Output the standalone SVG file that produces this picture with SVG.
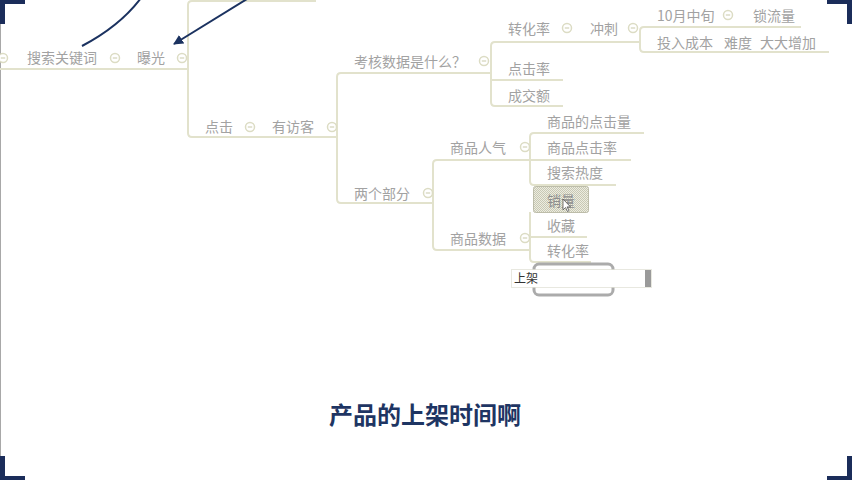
<svg xmlns="http://www.w3.org/2000/svg" width="852" height="480" viewBox="0 0 852 480">
  <style>
    .t { font-family: "Noto Sans CJK SC", "Noto Sans", sans-serif; font-size: 14px; fill: #a2a2a2; }
    .br { fill: none; stroke: #e2e2cc; stroke-width: 2; stroke-linecap: square; }
    .tog { fill: #ffffff; stroke: #dcdcc4; stroke-width: 1.5; }
    .tog-m { stroke: #d2d2b8; stroke-width: 1.2; }
    .corner { fill: #1b2d5a; }
    .ink { fill: none; stroke: #1b3260; stroke-width: 2; }
    .cap { font-family: "Noto Sans CJK SC", "Noto Sans", sans-serif; font-size: 24px; font-weight: 700; fill: #1e3563; }
  </style>
  <defs>
    <marker id="ah" viewBox="0 0 10 10" refX="9" refY="5" markerWidth="5" markerHeight="5" orient="auto" markerUnits="strokeWidth">
      <path d="M0,0 L10,5 L0,10 z" fill="#1b3260"/>
    </marker>
    <g id="toggle">
      <circle r="4.5" class="tog"/>
      <line x1="-2.2" y1="0" x2="2.2" y2="0" class="tog-m"/>
    </g>
    <pattern id="sel" width="2" height="2" patternUnits="userSpaceOnUse">
      <rect width="2" height="2" fill="#ecece0"/>
      <rect width="1" height="1" fill="#c8c8b4"/>
      <rect x="1" y="1" width="1" height="1" fill="#c8c8b4"/>
    </pattern>
  </defs>

  <rect width="852" height="480" fill="#ffffff"/>

  <!-- window edge -->
  <line x1="0.5" y1="24" x2="0.5" y2="456" stroke="#a8a8a8" stroke-width="1"/>

  <!-- connectors -->
  <g id="connectors">
    <path class="br" d="M0,69 H188"/>
    <path class="br" d="M315,1 H192 Q188,1 188,5 V133 Q188,137 192,137 H335"/>
    <path class="br" d="M490,73 H341 Q337,73 337,77 V199 Q337,203 341,203 H433"/>
    <path class="br" d="M640,42 H495 Q491,42 491,46 V102 Q491,106 495,106 H562"/>
    <path class="br" d="M491,80 H562"/>
    <path class="br" d="M800,27 H644 Q640,27 640,31 V48 Q640,52 644,52 H828"/>
    <path class="br" d="M630,160 H437 Q433,160 433,164 V246 Q433,250 437,250 H530"/>
    <path class="br" d="M643,133 H534 Q530,133 530,137 V181 Q530,185 534,185 H615"/>
    <path class="br" d="M530,213 V258 Q530,262 534,262 H590"/>
    <path class="br" d="M530,237 H586"/>
    <!-- hand-drawn pointers -->
    <path class="ink" d="M82,46 Q120,26 141,-2"/>
    <path class="ink" d="M247,-1 L174,44" marker-end="url(#ah)"/>
  </g>

  <!-- nodes -->
  <g id="n-search"><text class="t" x="27" y="63">搜索关键词</text><use href="#toggle" x="3" y="58"/><use href="#toggle" x="115" y="58"/></g>
  <g id="n-exposure"><text class="t" x="137" y="63">曝光</text><use href="#toggle" x="182" y="58"/></g>
  <g id="n-click"><text class="t" x="205" y="132">点击</text><use href="#toggle" x="250" y="127"/></g>
  <g id="n-visitor"><text class="t" x="272" y="132">有访客</text><use href="#toggle" x="332" y="127"/></g>
  <g id="n-metrics"><text class="t" x="354" y="67">考核数据是什么？</text><use href="#toggle" x="484" y="61"/></g>
  <g id="n-conv1"><text class="t" x="508" y="34">转化率</text><use href="#toggle" x="567" y="28"/></g>
  <g id="n-sprint"><text class="t" x="590" y="34">冲刺</text><use href="#toggle" x="633" y="28"/></g>
  <g id="n-mid-oct"><text class="t" x="657" y="21">10月中旬</text><use href="#toggle" x="728" y="15"/></g>
  <g id="n-lock"><text class="t" x="753" y="21">锁流量</text></g>
  <g id="n-cost"><text class="t" y="48"><tspan x="657">投入成本</tspan><tspan x="724">难度</tspan><tspan x="760">大大增加</tspan></text></g>
  <g id="n-ctr"><text class="t" x="508" y="74">点击率</text></g>
  <g id="n-gmv"><text class="t" x="508" y="101">成交额</text></g>
  <g id="n-two"><text class="t" x="354" y="199">两个部分</text><use href="#toggle" x="428" y="193"/></g>
  <g id="n-pop"><text class="t" x="450" y="153">商品人气</text><use href="#toggle" x="525" y="147"/></g>
  <g id="n-clicks"><text class="t" x="547" y="127">商品的点击量</text></g>
  <g id="n-pctr"><text class="t" x="547" y="153">商品点击率</text></g>
  <g id="n-heat"><text class="t" x="547" y="178">搜索热度</text></g>
  <g id="n-data"><text class="t" x="450" y="244">商品数据</text><use href="#toggle" x="525" y="238"/></g>
  <g id="n-sales">
    <rect x="533.5" y="186.5" width="55" height="26" rx="2" fill="url(#sel)" stroke="#bdbdaa" stroke-width="1"/>
    <text class="t" x="547" y="206" style="fill:#8e8e8e">销量</text>
    <path d="M563,199 v11 l2.5,-2.5 l2,4 l1.5,-0.8 l-2,-3.8 h3.5 z" fill="#ffffff" stroke="#555555" stroke-width="0.8"/>
  </g>
  <g id="n-fav"><text class="t" x="547" y="231">收藏</text></g>
  <g id="n-conv2"><text class="t" x="547" y="256">转化率</text></g>
  <g id="n-edit">
    <rect x="534" y="264" width="79" height="31" rx="5" fill="#ffffff" stroke="#ababab" stroke-width="3"/>
    <rect x="511.5" y="269.5" width="140" height="18" fill="#ffffff" stroke="#d0d0c0" stroke-width="1" stroke-dasharray="1 1"/>
    <rect x="645" y="270" width="6" height="17" fill="#9a9a9a"/>
    <text x="514" y="283" font-family="'Noto Sans CJK SC', sans-serif" font-size="12" fill="#333333">上架</text>
  </g>

  <!-- frame corners -->
  <g id="corners">
    <rect class="corner" x="0" y="0" width="25" height="4"/>
    <rect class="corner" x="0" y="0" width="5" height="24"/>
    <rect class="corner" x="827" y="0" width="25" height="4"/>
    <rect class="corner" x="847" y="0" width="5" height="24"/>
    <rect class="corner" x="0" y="476" width="25" height="4"/>
    <rect class="corner" x="0" y="456" width="5" height="24"/>
    <rect class="corner" x="827" y="476" width="25" height="4"/>
    <rect class="corner" x="847" y="456" width="5" height="24"/>
  </g>

  <!-- subtitle -->
  <text class="cap" x="425" y="424" text-anchor="middle">产品的上架时间啊</text>
</svg>
